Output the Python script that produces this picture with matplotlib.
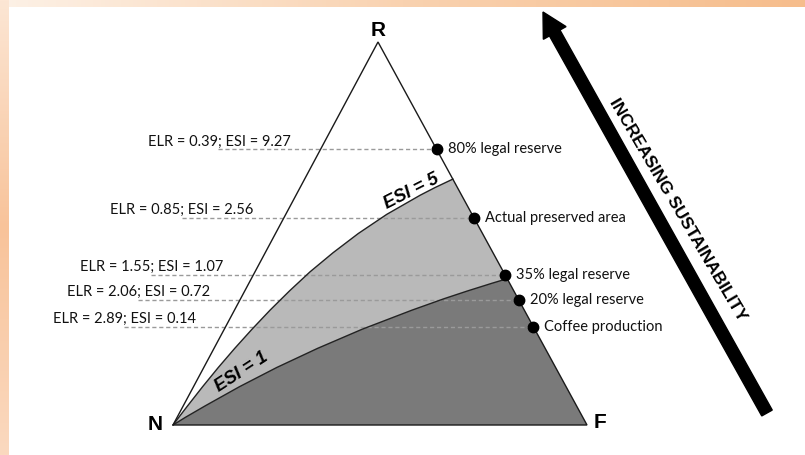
import numpy as np
import matplotlib.pyplot as plt
from matplotlib.colors import LinearSegmentedColormap
from matplotlib.patches import Polygon, FancyArrow

plt.rcParams['font.family'] = ['Lato', 'DejaVu Sans']

# emergy indicators for the scenarios (points on the R-F edge)
elr = [0.39, 0.85, 1.55, 2.06, 2.89]
esi = [9.27, 2.56, 1.07, 0.72, 0.14]
scenarios = ['80% legal reserve', 'Actual preserved area', '35% legal reserve',
             '20% legal reserve', 'Coffee production']

# ESI isolines as (R, F) fractions
esi5_r = [0.0, 0.02, 0.05, 0.1, 0.15, 0.2, 0.25, 0.3, 0.35, 0.4, 0.45, 0.5,
          0.55, 0.6, 0.62, 0.642]
esi5_f = [0.0, 0.004, 0.0105, 0.022, 0.035, 0.05, 0.067, 0.086, 0.108, 0.133,
          0.164, 0.2, 0.244, 0.3, 0.326, 0.358]
esi1_r = [0.0, 0.02, 0.05, 0.1, 0.15, 0.2, 0.25, 0.3, 0.33, 0.35, 0.37, 0.382]
esi1_f = [0.0, 0.020, 0.053, 0.111, 0.176, 0.25, 0.333, 0.429, 0.492, 0.538,
          0.587, 0.618]

# triangle corners in figure pixels
N = np.array([173.0, 425.0])
F = np.array([587.0, 425.0])
R = np.array([378.0, 42.0])


def tern(r, f):
    r = np.asarray(r, float)
    f = np.asarray(f, float)
    n = 1 - r - f
    x = n * N[0] + f * F[0] + r * R[0]
    y = n * N[1] + f * F[1] + r * R[1]
    return x, y


fig = plt.figure(figsize=(8.05, 4.55), dpi=100)
ax = fig.add_axes([0, 0, 1, 1])
ax.set_xlim(0, 805)
ax.set_ylim(455, 0)
ax.axis('off')

# peach frame at top and left
top = np.linspace(0, 1, 200)[None, :]
ax.imshow(top, extent=(0, 805, 7, 0), aspect='auto', zorder=0,
          cmap=LinearSegmentedColormap.from_list('p1', ['#fdf1e6', '#f9d2b0', '#f6bd8c']))
left = np.linspace(0, 1, 200)[:, None]
ax.imshow(left, extent=(0, 8, 455, 0), aspect='auto', zorder=0,
          cmap=LinearSegmentedColormap.from_list('p2', ['#fce6d4', '#f8c39a', '#fbd9bf']))

# shaded regions
x5, y5 = tern(esi5_r, esi5_f)
x1, y1 = tern(esi1_r, esi1_f)
dark = list(zip(x1, y1)) + [tuple(F)]
ax.add_patch(Polygon(dark, closed=True, facecolor='#7a7a7a', edgecolor='none', zorder=1))
light = list(zip(x5, y5)) + list(zip(x1[::-1], y1[::-1]))
ax.add_patch(Polygon(light, closed=True, facecolor='#b9b9b9', edgecolor='none', zorder=1))
ax.plot(x5, y5, color='#222222', lw=1.0, zorder=3)
ax.plot(x1, y1, color='#222222', lw=1.0, zorder=3)
ax.add_patch(Polygon([N, F, R], closed=True, facecolor='none', edgecolor='#1a1a1a',
                     lw=1.0, zorder=4))

# scenario points, dashed guides and labels
for e, s, name in zip(elr, esi, scenarios):
    r = 1 / (1 + e)
    px, py = tern(r, 1 - r)
    lx, _ = tern(r, 0)
    lab_right = lx - 30
    ax.plot([lab_right - 72, px], [py, py], color='#9a9a9a', lw=1.0,
            ls=(0, (3, 2)), zorder=2)
    ax.plot(px, py, 'o', color='black', ms=7.5, zorder=5)
    ax.text(lab_right, py - 8, 'ELR = %.2f; ESI = %.2f' % (e, s), ha='right', va='center',
            fontsize=10.5, color='#111111', zorder=6)
    ax.text(px + 11, py, name, ha='left', va='center', fontsize=10.5,
            color='#111111', zorder=6)

# isoline labels
ax.text(411, 191, 'ESI = 5', rotation=27, ha='center', va='center', fontsize=13,
        fontweight='bold', fontstyle='italic', family=['Liberation Sans'], zorder=6)
ax.text(241, 372, 'ESI = 1', rotation=33, ha='center', va='center', fontsize=13,
        fontweight='bold', fontstyle='italic', family=['Liberation Sans'], zorder=6)

# corner labels
ax.text(R[0], R[1] - 12, 'R', ha='center', va='center', fontsize=15,
        fontweight='bold', family=['Liberation Sans'])
ax.text(N[0] - 18, N[1], 'N', ha='center', va='center', fontsize=15,
        fontweight='bold', family=['Liberation Sans'])
ax.text(F[0] + 13, F[1] - 2, 'F', ha='center', va='center', fontsize=15,
        fontweight='bold', family=['Liberation Sans'])

# sustainability arrow
ax.add_patch(FancyArrow(767, 413, 543 - 767, 12 - 413, width=12, head_width=26,
                        head_length=24, length_includes_head=True, color='black', zorder=5))
ax.text(678, 210, 'INCREASING SUSTAINABILITY', rotation=-59.5, ha='center', va='center',
        fontsize=12.5, fontweight='bold', family=['Liberation Sans'], zorder=6)

fig.savefig('out.png', dpi=100)
